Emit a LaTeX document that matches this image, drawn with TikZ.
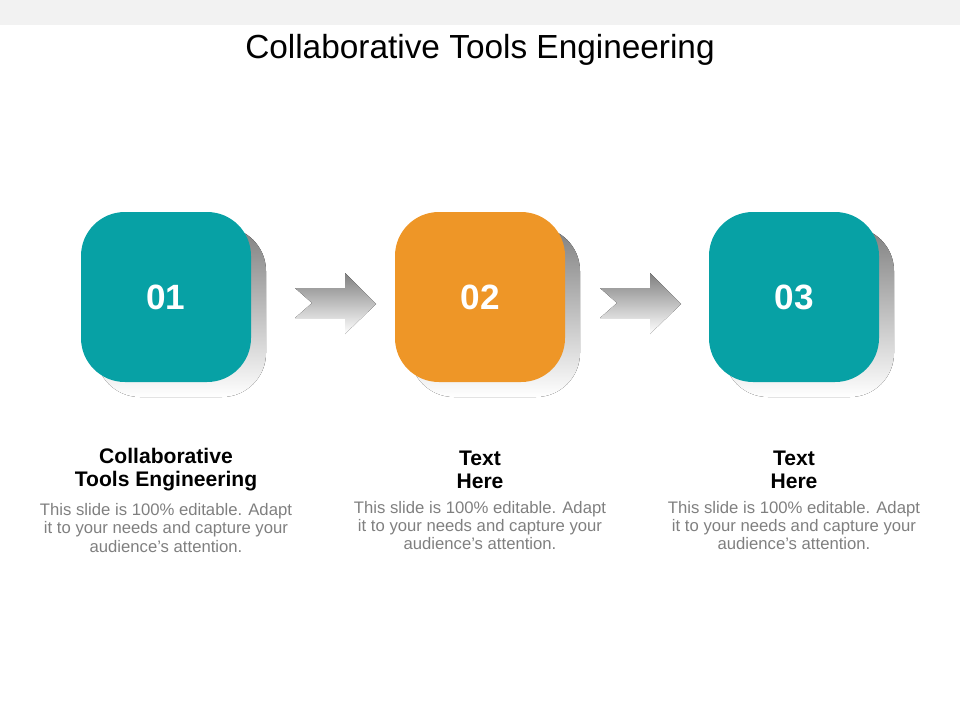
\documentclass[tikz,border=0pt]{standalone}
\usepackage{fontspec}
\setmainfont{Liberation Sans}
\usetikzlibrary{positioning}
\definecolor{teal}{HTML}{07A1A5}
\definecolor{amber}{HTML}{EE9627}
\definecolor{shade}{HTML}{D9D9D9}
\definecolor{bodytext}{HTML}{7F7F7F}
\tikzset{
  tile/.style = {rounded corners = 25, minimum size = 170*0.02cm, inner sep = 0},
  numtext/.style = {text = white, font = \fontsize{20}{24}\selectfont\bfseries},
  headtext/.style = {align = center, font = \fontsize{12}{13}\selectfont\bfseries},
  desctext/.style = {align = center, text = bodytext, font = \fontsize{9.5}{10.3}\selectfont}
}
\begin{document}
\begin{tikzpicture}[x = 0.02cm, y = -0.02cm]
  \useasboundingbox (0, 0) rectangle (960, 720);
  \fill[black!5] (0, 0) rectangle (960, 25);
  \node (title) at (480, 50) {\fontsize{19}{22}\selectfont Collaborative Tools Engineering};
  % step tiles with shadows
  \foreach \cx/\col/\num/\head [count = \i] in {166/teal/01/{Collaborative\\Tools Engineering}, 480/amber/02/{Text\\Here}, 794/teal/03/{Text\\Here}} {
    \fill[shade, rounded corners = 25] (\cx - 70, 227) rectangle (\cx + 100, 397);
    \node[tile, fill = \col] (box\i) at (\cx, 297) {};
    \node[numtext] (num\i) at (box\i) {\num};
    \node[headtext] (head\i) at (\cx, 470) {\head};
    \node[desctext, below = 0pt of head\i] (desc\i) {This slide is 100\% editable. Adapt\\it to your needs and capture your\\audience's attention.};
  }
  % arrows between tiles
  \foreach \ax in {295, 600} {
    \fill[shade] (\ax, 288) -- (\ax + 50, 288) -- (\ax + 50, 273) -- (\ax + 81, 304)
      -- (\ax + 50, 334) -- (\ax + 50, 318) -- (\ax, 318) -- (\ax + 17, 303) -- cycle;
  }
\end{tikzpicture}
\end{document}
